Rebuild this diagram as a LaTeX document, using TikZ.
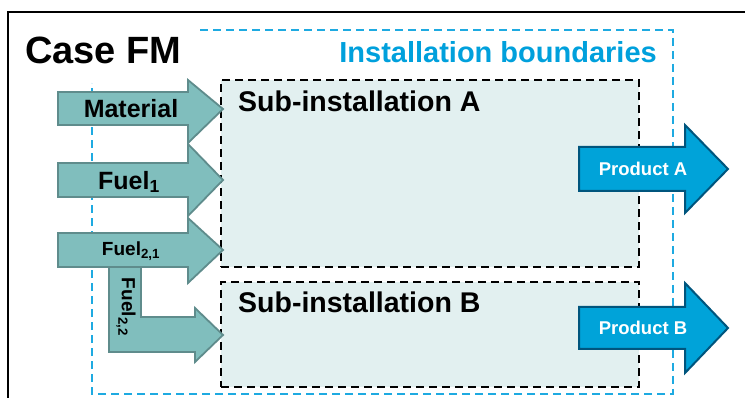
\documentclass[tikz,border=0pt]{standalone}
\usepackage{fontspec}
\setmainfont{Liberation Sans}
\definecolor{tealfill}{RGB}{128,190,189}
\definecolor{tealdraw}{RGB}{95,140,140}
\definecolor{subfill}{RGB}{226,240,240}
\definecolor{prodfill}{RGB}{0,163,217}
\definecolor{proddraw}{RGB}{0,85,125}
\definecolor{bluetxt}{RGB}{0,160,220}
\definecolor{bluedash}{RGB}{30,170,225}
\tikzset{
  tealarrow/.style={fill=tealfill, draw=tealdraw, line width=1.8pt, line join=miter},
  prodarrow/.style={fill=prodfill, draw=proddraw, line width=2pt, line join=miter},
  subbox/.style={fill=subfill, draw=black, dash pattern=on 8pt off 5pt, line width=2.3pt, inner sep=0pt, anchor=north west},
  bluebox/.style={draw=bluedash, dash pattern=on 8pt off 5pt, line width=2.1pt},
  arrlabel/.style={font=\fontsize{25}{27}\selectfont\bfseries, inner sep=0pt},
  smalllabel/.style={font=\fontsize{19}{21}\selectfont\bfseries, inner sep=0pt},
  prodlabel/.style={font=\fontsize{18.5}{20}\selectfont\bfseries, text=white, inner sep=0pt},
  boxtitle/.style={font=\fontsize{28.5}{30}\selectfont\bfseries, inner sep=0pt, anchor=base west},
}
\begin{document}
\begin{tikzpicture}[x=1pt, y=-1pt]
\useasboundingbox (0,0) rectangle (745,398);
% outer frame
\draw[line width=1.5pt] (8,398) -- (8,12) -- (745,12);
% installation boundaries
\draw[bluebox] (200,30) -- (673,30) -- (673,394) -- (92,394) -- (92,83);
\node[font=\fontsize{29}{31}\selectfont\bfseries, text=bluetxt, inner sep=0pt, anchor=base east] (inst) at (657,63) {Installation boundaries};
\node[font=\fontsize{38}{40}\selectfont\bfseries, inner sep=0pt, anchor=base west] (case) at (25,64) {Case FM};
% sub-installations
\node[subbox, minimum width=418pt, minimum height=187pt] (subA) at (220,79) {};
\node[subbox, minimum width=418pt, minimum height=105pt] (subB) at (220,281) {};
\node[boxtitle] (subAt) at (238,112) {Sub-installation A};
\node[boxtitle] (subBt) at (238,313) {Sub-installation B};
% input arrows
\draw[tealarrow] (58,92) -- (188,92) -- (188,80) -- (223,109) -- (188,143) -- (188,125) -- (58,125) -- cycle;
\draw[tealarrow] (58,163) -- (188,163) -- (188,144) -- (223,180) -- (188,216) -- (188,197) -- (58,197) -- cycle;
\draw[tealarrow] (109,260) -- (141,260) -- (141,317) -- (195,317) -- (195,308) -- (223,335) -- (195,362) -- (195,352) -- (109,352) -- cycle;
\draw[tealarrow] (58,233) -- (188,233) -- (188,218) -- (223,250) -- (188,283) -- (188,267) -- (58,267) -- cycle;
\node[arrlabel] (mat) at (131,109) {Material};
\node[arrlabel] (fuel1) at (129,182) {Fuel\textsubscript{1}};
\node[smalllabel] (fuel21) at (131,251) {Fuel\textsubscript{2,1}};
\node[smalllabel, rotate=-90] (fuel22) at (126,307) {Fuel\textsubscript{2,2}};
% output arrows
\draw[prodarrow] (579,147) -- (685,147) -- (685,125) -- (728,169) -- (685,213) -- (685,191) -- (579,191) -- cycle;
\draw[prodarrow] (579,307) -- (685,307) -- (685,283) -- (728,328) -- (685,373) -- (685,349) -- (579,349) -- cycle;
\node[prodlabel] (pa) at (643,169) {Product A};
\node[prodlabel] (pb) at (643,328) {Product B};
\end{tikzpicture}
\end{document}
